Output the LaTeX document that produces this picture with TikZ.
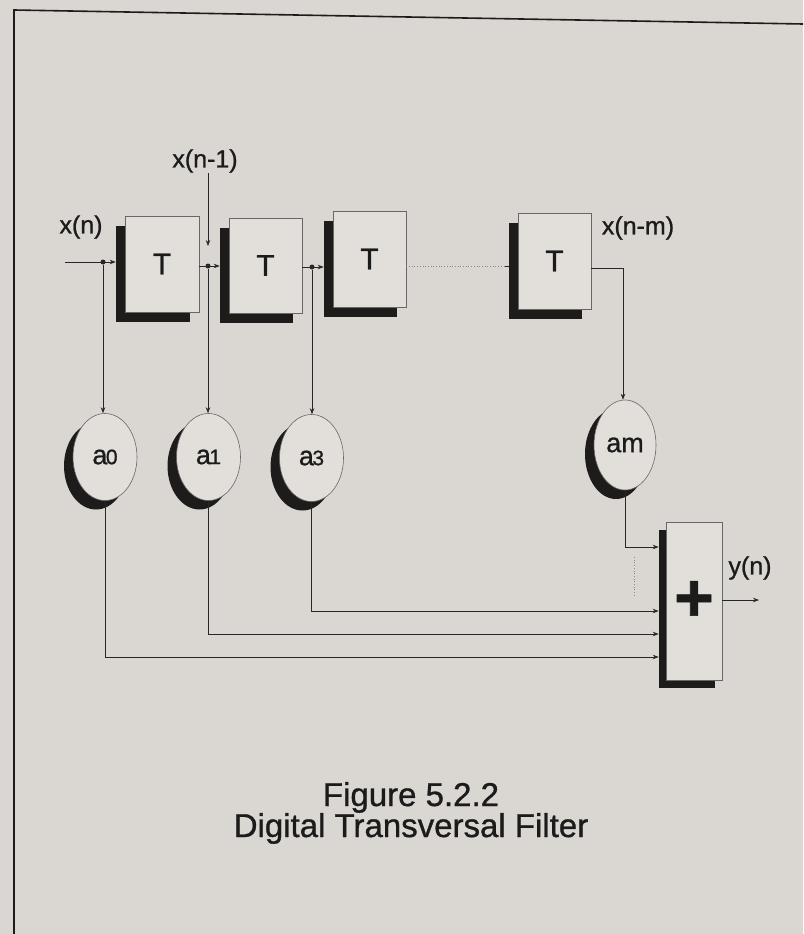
\documentclass[tikz,border=0pt]{standalone}
\usepackage{fontspec}
\setmainfont{Liberation Sans}[FakeBold=0.9]
\usetikzlibrary{shadows,arrows.meta,shapes.geometric}
\definecolor{bgc}{RGB}{218,215,210}
\definecolor{boxc}{RGB}{226,223,219}
\definecolor{shd}{RGB}{30,28,27}
\definecolor{ink}{RGB}{40,38,38}
\definecolor{txt}{RGB}{28,27,27}
\begin{document}
\begin{tikzpicture}[x=1pt,y=-1pt,
  lab/.style={inner sep=0pt,text=txt,font=\fontsize{25}{25}\selectfont},
  delay/.style={draw=ink!70,line width=0.6pt,fill=boxc,minimum width=74pt,minimum height=96pt,inner sep=0pt,
    font=\fontsize{30}{30}\selectfont,text=txt,
    drop shadow={shadow xshift=-9pt,shadow yshift=-10pt,fill=shd,opacity=1}},
  coef/.style={ellipse,draw=ink!70,line width=0.6pt,fill=boxc,minimum width=64pt,minimum height=87pt,inner sep=0pt,
    font=\fontsize{27}{27}\selectfont,text=txt,
    drop shadow={shadow xshift=-9pt,shadow yshift=-9pt,fill=shd,opacity=1}},
  sumbox/.style={draw=ink!70,line width=0.6pt,fill=boxc,minimum width=56pt,minimum height=158pt,inner sep=0pt,
    font=\fontsize{68}{68}\selectfont\bfseries,text=txt,
    drop shadow={shadow xshift=-7pt,shadow yshift=-8pt,fill=shd,opacity=1}},
  sig/.style={draw=ink,line width=0.7pt,-{Stealth[length=6pt,width=4.5pt]}},
  wire/.style={draw=ink,line width=0.7pt},
  faint/.style={draw=ink!55,line width=0.7pt,dotted},
  dot/.style={circle,fill=ink,inner sep=0pt,minimum size=5pt},
  capt/.style={inner sep=0pt,text=txt,font=\fontsize{33}{33}\selectfont}
]
% background and frame
\fill[bgc] (0,0) rectangle (803,934);
\useasboundingbox (0,0) rectangle (803,934);
\draw[line width=1.6pt,draw=shd,line join=miter] (14,934) -- (14,10) -- (803,24);

% delay elements
\node[delay] (d1) at (162,264) {T};
\node[delay,minimum width=73pt,minimum height=95pt] (d2) at (265.5,265.5) {T};
\node[delay,minimum width=73pt] (d3) at (369.5,259) {T};
\node[delay,minimum width=73pt] (d4) at (554.5,261) {T};

% coefficients
\node[coef] (a0) at (105,457) {a\kern-1.5pt{\fontsize{21}{21}\selectfont 0}};
\node[coef] (a1) at (208.5,457) {a\kern-1.5pt{\fontsize{21}{21}\selectfont 1}};
\node[coef] (a3) at (311.5,458) {a\kern-1.5pt{\fontsize{21}{21}\selectfont 3}};
\node[coef,minimum width=62pt,minimum height=90pt] (am) at (625,445) {am};

% summer
\node[sumbox] (sum) at (694,601) {+};

% labels
\node[lab] (xn) at (81,227) {x(n)};
\node[lab] (xn1) at (205,161) {x(n-1)};
\node[lab] (xnm) at (638,228) {x(n-m)};
\node[lab] (yn) at (750,568) {y(n)};

% named points
\coordinate (in) at (65,262);
\node[dot] (t0) at (103,262) {};
\node[dot] (t1) at (208,266) {};
\node[dot] (t2) at (312,267) {};
\coordinate (x1e) at (208,246);
\coordinate (c4) at (623,268);
\coordinate (l3) at (0,266);
\coordinate (ym) at (0,547);
\coordinate (y3) at (0,611);
\coordinate (y1) at (0,634);
\coordinate (y0) at (0,657);
\coordinate (yend) at (759,600);
\coordinate (dv1) at (634,557);
\coordinate (dv2) at (634,597);

% delay line
\draw[sig] (in) -- ([xshift=-9pt]d1.west |- t0);
\draw[sig] (d1.east |- t1) -- ([xshift=-9pt]d2.west |- t1);
\draw[sig] (d2.east |- t2) -- ([xshift=-9pt]d3.west |- t2);
\draw[faint] (d3.east |- l3) -- ([xshift=-13pt]d4.west |- l3);
\draw[wire] ([xshift=-13pt]d4.west |- l3) -- ([xshift=-9pt]d4.west |- l3);
\draw[sig] (xn1.south -| x1e) -- (x1e);

% taps
\draw[sig] (t0) -- (t0 |- a0.north);
\draw[sig] (t1) -- (t1 |- a1.north);
\draw[sig] (t2) -- (t2 |- a3.north);
\draw[sig] (d4.east |- c4) -- (c4) -- (c4 |- am.north);

% to the summer
\draw[sig] (am.south) -- (am.south |- ym) -- ([xshift=-7pt]sum.west |- ym);
\draw[sig] (a3.south) -- (a3.south |- y3) -- ([xshift=-7pt]sum.west |- y3);
\draw[sig] (a1.south) -- (a1.south |- y1) -- ([xshift=-7pt]sum.west |- y1);
\draw[sig] (a0.south) -- (a0.south |- y0) -- ([xshift=-7pt]sum.west |- y0);
\draw[faint] (dv1) -- (dv2);

% output
\draw[sig] (sum.east |- yend) -- (yend);

% caption
\node[capt,anchor=base] (cap1) at (411,806) {Figure 5.2.2};
\node[capt,anchor=base] (cap2) at (411,837) {Digital Transversal Filter};
\end{tikzpicture}
\end{document}
